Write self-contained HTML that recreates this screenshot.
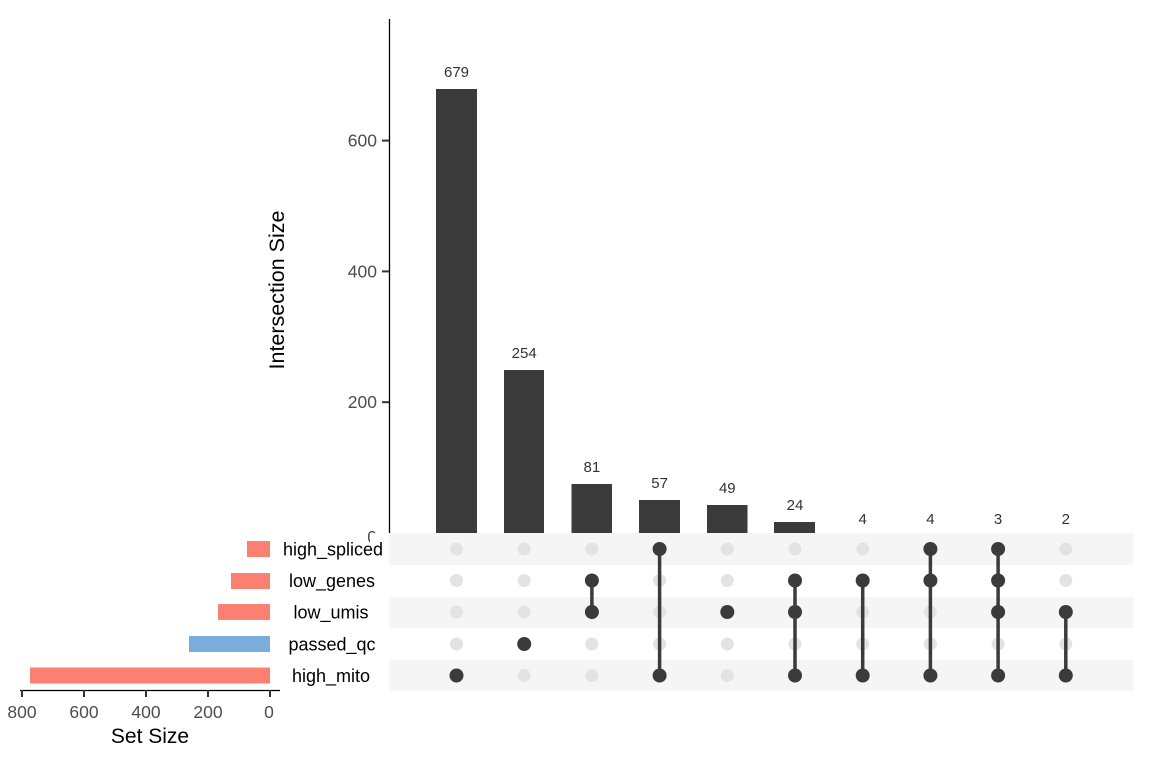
<!DOCTYPE html>
<html><head><meta charset="utf-8"><style>
html,body{margin:0;padding:0;background:#fff;}
svg{display:block;font-family:"Liberation Sans",Arial,sans-serif;}
</style></head><body>
<svg width="1152" height="768" viewBox="0 0 1152 768" xmlns="http://www.w3.org/2000/svg">
<!-- y axis -->
<line x1="389.5" y1="19" x2="389.5" y2="537" stroke="#000" stroke-width="1.3"/>
<g stroke="#333" stroke-width="2">
<line x1="382" y1="140.6" x2="389" y2="140.6"/>
<line x1="382" y1="271.4" x2="389" y2="271.4"/>
<line x1="382" y1="402.2" x2="389" y2="402.2"/>
<line x1="382" y1="536" x2="389" y2="536"/>
</g>
<g fill="#4d4d4d" font-size="17.5" text-anchor="end">
<text x="377" y="146.6">600</text>
<text x="377" y="277.4">400</text>
<text x="377" y="408.2">200</text>
<text x="377" y="543">0</text>
</g>
<text transform="translate(284,290) rotate(-90)" text-anchor="middle" font-size="21.5" fill="#000">Intersection Size</text>
<!-- bars -->
<g fill="#3b3b3b">
<rect x="436" y="89" width="41" height="444"/>
<rect x="504" y="370" width="40" height="163"/>
<rect x="571.5" y="484" width="40.5" height="49"/>
<rect x="639" y="500" width="41" height="33"/>
<rect x="707" y="505" width="40.5" height="28"/>
<rect x="774" y="522" width="41" height="11"/>
</g>
<g fill="#333" font-size="15" text-anchor="middle">
<text x="456.5" y="77">679</text>
<text x="524.2" y="358">254</text>
<text x="591.9" y="472">81</text>
<text x="659.6" y="488">57</text>
<text x="727.3" y="493">49</text>
<text x="795" y="510">24</text>
<text x="862.7" y="524">4</text>
<text x="930.4" y="524">4</text>
<text x="998.1" y="524">3</text>
<text x="1065.8" y="524">2</text>
</g>
<!-- matrix bands -->
<rect x="370" y="533" width="19" height="10" fill="#fff"/>
<g fill="#f5f5f5">
<rect x="389" y="533" width="744" height="32"/>
<rect x="389" y="597" width="744" height="31"/>
<rect x="389" y="660" width="744" height="31"/>
</g>
<!-- gray dots -->
<g fill="#e3e3e3">
<circle cx="456.5" cy="549" r="6.5"/><circle cx="456.5" cy="580.5" r="6.5"/><circle cx="456.5" cy="612" r="6.5"/><circle cx="456.5" cy="644" r="6.5"/>
<circle cx="524.2" cy="549" r="6.5"/><circle cx="524.2" cy="580.5" r="6.5"/><circle cx="524.2" cy="612" r="6.5"/><circle cx="524.2" cy="675.5" r="6.5"/>
<circle cx="591.9" cy="549" r="6.5"/><circle cx="591.9" cy="644" r="6.5"/><circle cx="591.9" cy="675.5" r="6.5"/>
<circle cx="659.6" cy="580.5" r="6.5"/><circle cx="659.6" cy="612" r="6.5"/><circle cx="659.6" cy="644" r="6.5"/>
<circle cx="727.3" cy="549" r="6.5"/><circle cx="727.3" cy="580.5" r="6.5"/><circle cx="727.3" cy="644" r="6.5"/><circle cx="727.3" cy="675.5" r="6.5"/>
<circle cx="795" cy="549" r="6.5"/><circle cx="795" cy="644" r="6.5"/>
<circle cx="862.7" cy="549" r="6.5"/><circle cx="862.7" cy="612" r="6.5"/><circle cx="862.7" cy="644" r="6.5"/>
<circle cx="930.4" cy="612" r="6.5"/><circle cx="930.4" cy="644" r="6.5"/>
<circle cx="998.1" cy="644" r="6.5"/>
<circle cx="1065.8" cy="549" r="6.5"/><circle cx="1065.8" cy="580.5" r="6.5"/><circle cx="1065.8" cy="644" r="6.5"/>
</g>
<!-- lines -->
<g stroke="#3b3b3b" stroke-width="3.5">
<line x1="591.9" y1="580.5" x2="591.9" y2="612"/>
<line x1="659.6" y1="549" x2="659.6" y2="675.5"/>
<line x1="795" y1="580.5" x2="795" y2="675.5"/>
<line x1="862.7" y1="580.5" x2="862.7" y2="675.5"/>
<line x1="930.4" y1="549" x2="930.4" y2="675.5"/>
<line x1="998.1" y1="549" x2="998.1" y2="675.5"/>
<line x1="1065.8" y1="612" x2="1065.8" y2="675.5"/>
</g>
<!-- dark dots -->
<g fill="#3b3b3b">
<circle cx="456.5" cy="675.5" r="7"/>
<circle cx="524.2" cy="644" r="7"/>
<circle cx="591.9" cy="580.5" r="7"/><circle cx="591.9" cy="612" r="7"/>
<circle cx="659.6" cy="549" r="7"/><circle cx="659.6" cy="675.5" r="7"/>
<circle cx="727.3" cy="612" r="7"/>
<circle cx="795" cy="580.5" r="7"/><circle cx="795" cy="612" r="7"/><circle cx="795" cy="675.5" r="7"/>
<circle cx="862.7" cy="580.5" r="7"/><circle cx="862.7" cy="675.5" r="7"/>
<circle cx="930.4" cy="549" r="7"/><circle cx="930.4" cy="580.5" r="7"/><circle cx="930.4" cy="675.5" r="7"/>
<circle cx="998.1" cy="549" r="7"/><circle cx="998.1" cy="580.5" r="7"/><circle cx="998.1" cy="612" r="7"/><circle cx="998.1" cy="675.5" r="7"/>
<circle cx="1065.8" cy="612" r="7"/><circle cx="1065.8" cy="675.5" r="7"/>
</g>
<!-- set labels -->
<g fill="#000" font-size="18" text-anchor="middle">
<text x="333" y="555.5">high_spliced</text>
<text x="332" y="587">low_genes</text>
<text x="331" y="618.5">low_umis</text>
<text x="332" y="650.5">passed_qc</text>
<text x="331" y="682">high_mito</text>
</g>
<!-- set size bars -->
<rect x="247" y="541" width="23" height="16" fill="#fa8072"/>
<rect x="231" y="573" width="39" height="16" fill="#fa8072"/>
<rect x="218" y="604" width="52" height="16" fill="#fa8072"/>
<rect x="189" y="636" width="81" height="16" fill="#7aaddc"/>
<rect x="30" y="667.5" width="240" height="16" fill="#fa8072"/>
<line x1="20" y1="690.5" x2="280" y2="690.5" stroke="#000" stroke-width="1.3"/>
<g stroke="#333" stroke-width="2">
<line x1="22" y1="690" x2="22" y2="697"/>
<line x1="84" y1="690" x2="84" y2="697"/>
<line x1="146" y1="690" x2="146" y2="697"/>
<line x1="208" y1="690" x2="208" y2="697"/>
<line x1="270" y1="690" x2="270" y2="697"/>
</g>
<g fill="#4d4d4d" font-size="17.5" text-anchor="middle">
<text x="22" y="718">800</text>
<text x="84" y="718">600</text>
<text x="146" y="718">400</text>
<text x="208" y="718">200</text>
<text x="269" y="718">0</text>
</g>
<text x="150" y="743" text-anchor="middle" font-size="21" fill="#000">Set Size</text>
</svg>
</body></html>
